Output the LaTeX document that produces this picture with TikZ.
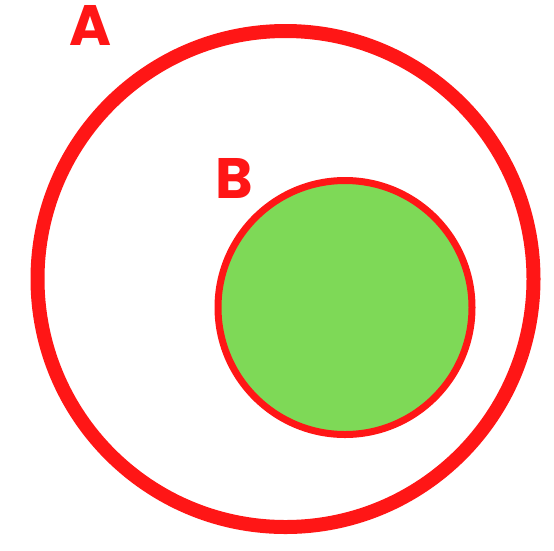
\documentclass[tikz,border=0pt]{standalone}
\usepackage{fontspec}
\usepackage{tikz}
\usepackage{xcolor}
\newfontfamily\setfont{Poppins}
\definecolor{setred}{HTML}{FF1616}
\definecolor{setgreen}{HTML}{7ED957}
\begin{document}
\begin{tikzpicture}[
        x=1pt, y=-1pt,
        set/.style={circle, draw=setred, inner sep=0pt},
        setlabel/.style={inner sep=0pt, text=setred, font=\setfont\bfseries\fontsize{57}{57}\selectfont}
      ]
        \useasboundingbox (0,0) rectangle (554,550);
        \node (A) [set, line width=14pt, minimum size=496pt] at (285.5,279) {};
        \node (B) [set, fill=setgreen, line width=7pt, minimum size=254pt] at (345,307.5) {};
        \node (la) [setlabel] at (91,25) {A};
        \node (lb) [setlabel] at (234.5,178.5) {B};
      \end{tikzpicture}
\end{document}
